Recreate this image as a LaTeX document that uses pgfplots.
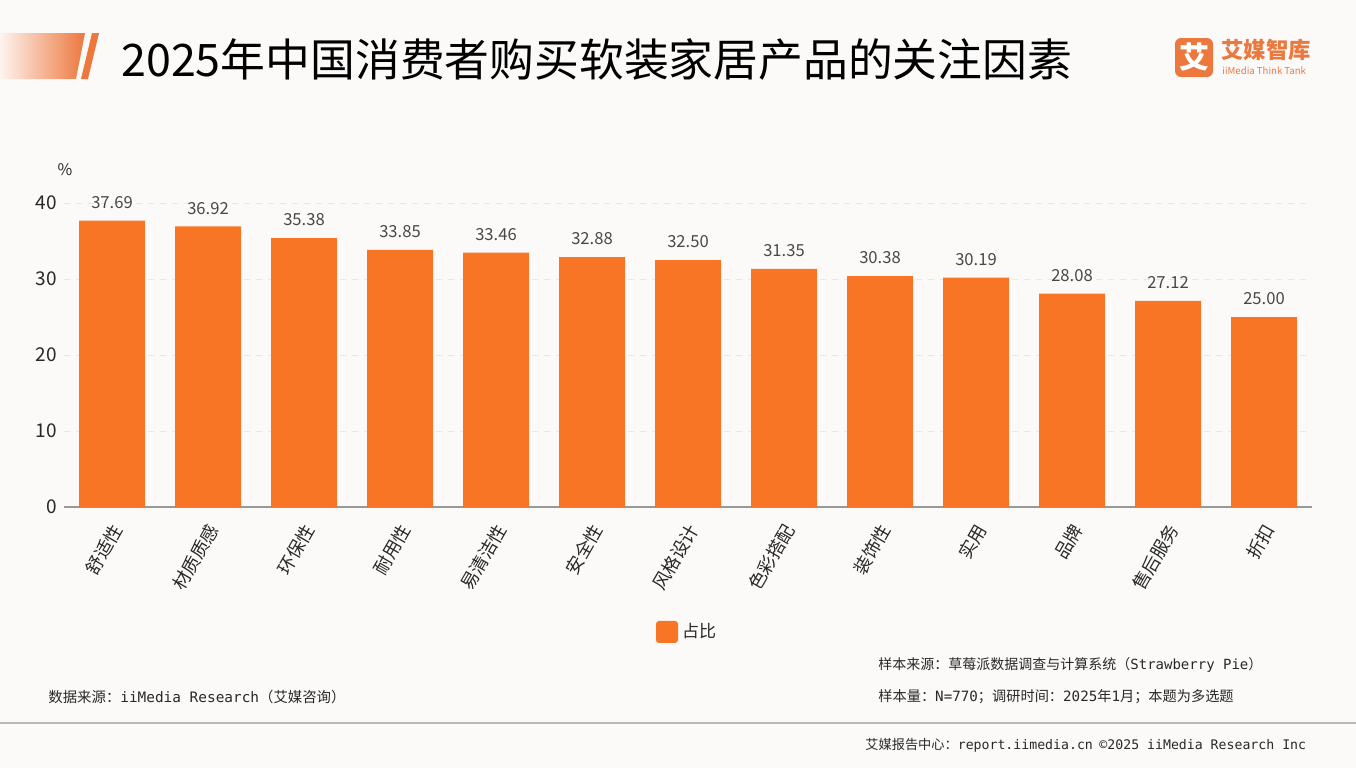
\documentclass[border=0pt]{standalone}
\usepackage{pgfplots}
\pgfplotsset{compat=1.18}
\usepackage{fontspec}
\setmainfont{Noto Sans CJK SC}
\newfontfamily\monof{DejaVu Sans Mono}
\definecolor{barc}{RGB}{248,117,37}
\definecolor{bg}{RGB}{251,250,249}
\definecolor{hdr}{RGB}{236,120,62}
\definecolor{txt}{RGB}{40,40,40}
\begin{document}
\begin{tikzpicture}
\useasboundingbox (0,0) rectangle (678pt,-384pt);
\fill[bg] (0,0) rectangle (678pt,-384pt);
\begin{scope}[x=0.5pt,y=-0.5pt]
 \shade[left color=hdr!8, right color=hdr] (0,33) -- (85,33) -- (76,79) -- (0,79) -- cycle;
 \fill[hdr] (92,33) -- (99,33) -- (88,79) -- (81,79) -- cycle;
 \node[anchor=west, inner sep=0, font=\fontsize{22.4}{24}\selectfont, text=black] at (121,59) {2025年中国消费者购买软装家居产品的关注因素};
 % logo
 \fill[hdr, rounded corners=3pt] (1175,38) rectangle (1213,77);
 \node[text=white, font=\fontsize{15}{15}\bfseries\selectfont] at (1194,57.5) {艾};
 \node[anchor=west, inner sep=0, text=hdr, font=\fontsize{11.2}{12}\bfseries\selectfont] at (1221,50) {艾媒智库};
 \node[anchor=west, inner sep=0, text=hdr, font=\fontsize{4.8}{5}\selectfont] at (1222,71) {iiMedia Think Tank};
 % percent
 \node[text=txt, font=\fontsize{8}{9}\selectfont] at (65,170) {\%};
 % footer
 \draw[gray!55, line width=1.1pt] (0,723) -- (1356,723);
 \node[anchor=west, inner sep=0, text=txt, font=\fontsize{7.2}{8}\selectfont] at (48,697) {数据来源：{\monof iiMedia Research}（艾媒咨询）};
 \node[anchor=west, inner sep=0, text=txt, font=\fontsize{7}{8}\selectfont] at (878,665) {样本来源：草莓派数据调查与计算系统（{\monof Strawberry Pie}）};
 \node[anchor=west, inner sep=0, text=txt, font=\fontsize{7.1}{8}\selectfont] at (878,697) {样本量：{\monof N=770}；调研时间：{\monof 2025}年{\monof 1}月；本题为多选题};
 \node[anchor=west, inner sep=0, text=txt, font=\fontsize{6.6}{8}\selectfont] at (865,745) {艾媒报告中心：{\monof report.iimedia.cn\enspace ©2025 iiMedia Research Inc}};
\end{scope}
\begin{axis}[
  at={(32pt,-253.5pt)}, anchor=south west,
  width=624pt, height=152pt, scale only axis,
  xmin=-0.5, xmax=12.5, ymin=0, ymax=40,
  axis x line*=bottom, axis y line*=left,
  x axis line style={-, draw=gray!80, line width=0.9pt},
  y axis line style={draw=none},
  tick style={draw=none},
  ytick={0,10,20,30,40},
  ymajorgrids, grid style={dashed, gray!18, line width=0.5pt},
  xtick={0,...,12},
  xticklabels={舒适性,材质质感,环保性,耐用性,易清洁性,安全性,风格设计,色彩搭配,装饰性,实用,品牌,售后服务,折扣},
  xticklabel style={rotate=60, anchor=east, font=\fontsize{9}{10}\selectfont, text=txt, inner sep=1pt, xshift=-2pt, yshift=-5pt},
  yticklabel style={font=\fontsize{9.5}{10}\selectfont, text=txt},
  /pgf/number format/assume math mode=true,
  ybar, bar width=33pt, bar shift=0pt,
  nodes near coords={\pgfmathprintnumber[fixed,fixed zerofill,precision=2]{\pgfplotspointmeta}},
  every node near coord/.append style={font=\fontsize{8.3}{9}\selectfont, text=txt!85, yshift=2.5pt},
  clip=false,
  legend style={at={(0.5,-0.411)}, anchor=center, draw=none, fill=none, font=\fontsize{8.5}{9}\selectfont, text=txt},
  legend image code/.code={\fill[barc, rounded corners=1.5pt] (0pt,-5.5pt) rectangle (11pt,5.5pt);},
]
\addplot[fill=barc, draw=none] coordinates {
(0,37.69) (1,36.92) (2,35.38) (3,33.85) (4,33.46) (5,32.88) (6,32.50)
(7,31.35) (8,30.38) (9,30.19) (10,28.08) (11,27.12) (12,25.00)};
\addlegendentry{占比}
\end{axis}
\end{tikzpicture}
\end{document}
